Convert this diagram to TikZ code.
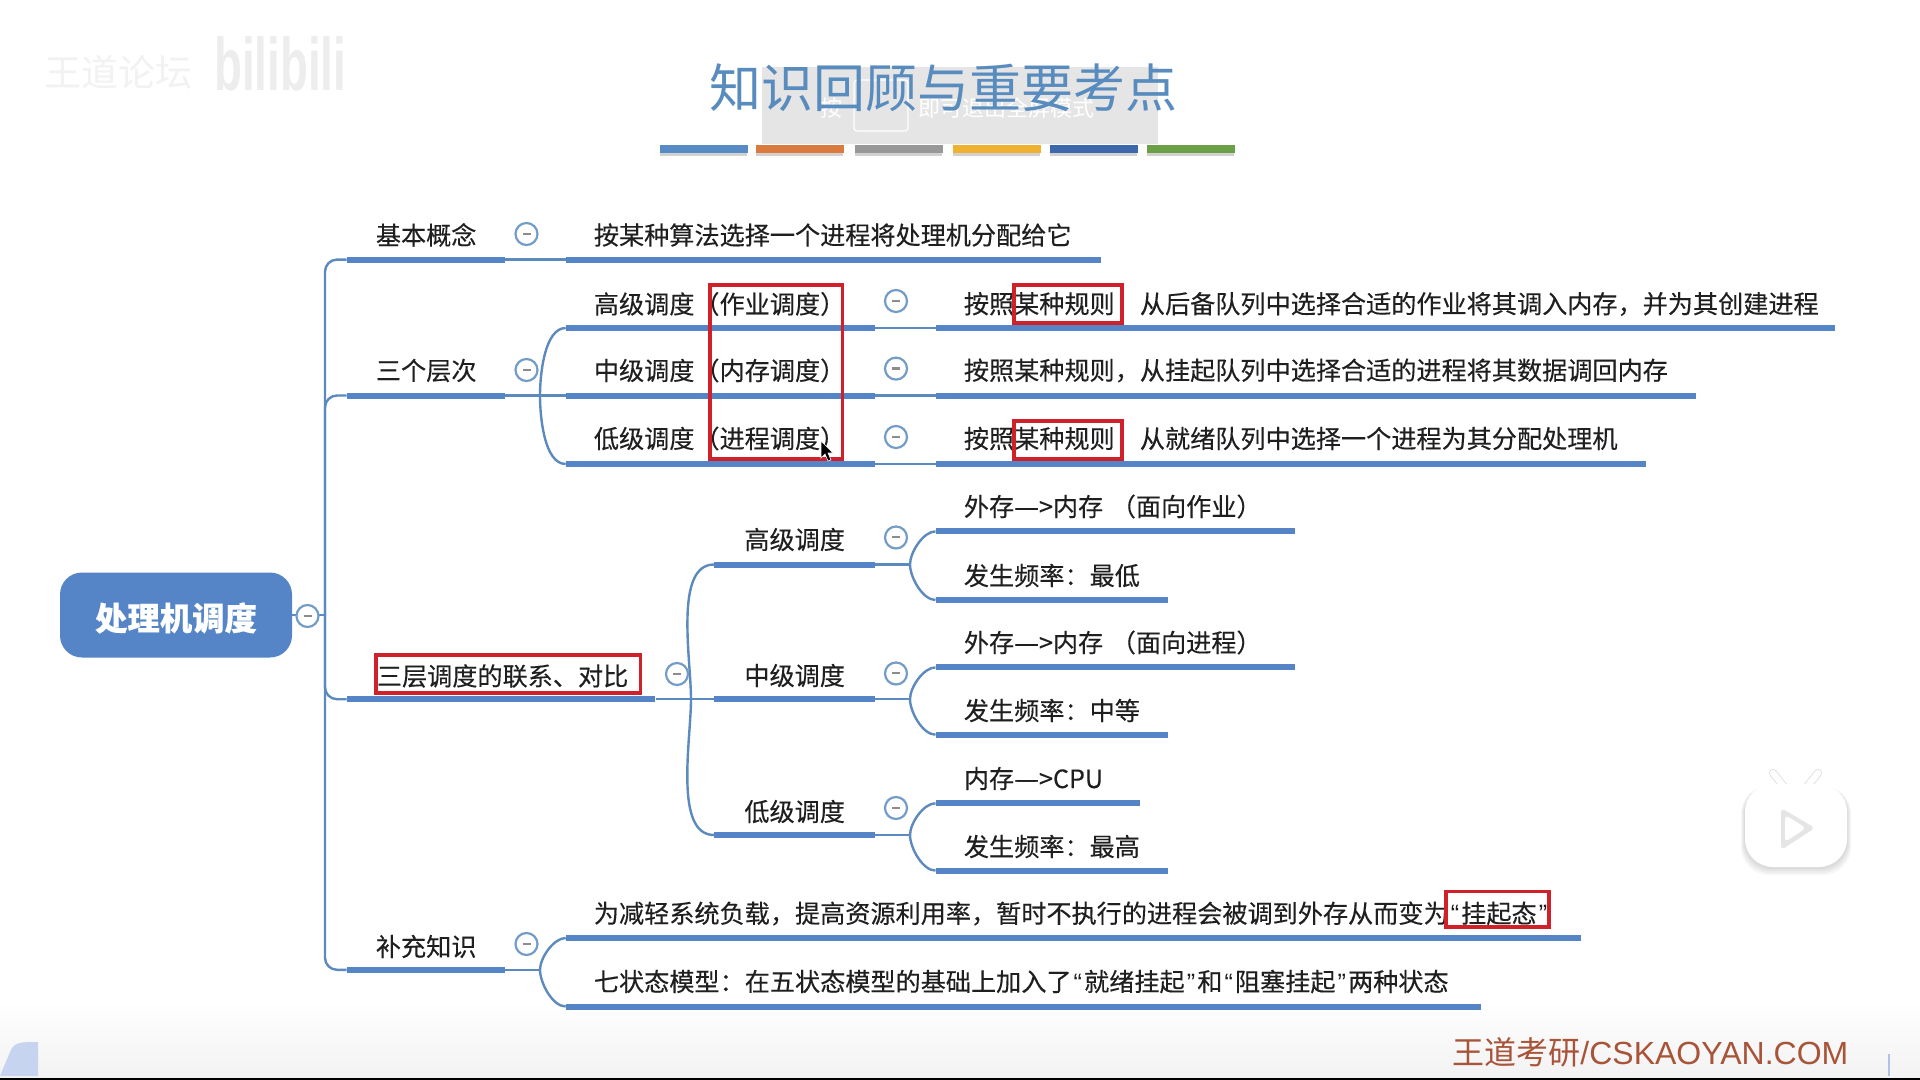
\documentclass[tikz,border=0pt]{standalone}
\usepackage{fontspec}
\setmainfont{Noto Sans CJK SC}[FakeBold=0.25]
\newfontfamily\plainfont{Noto Sans CJK SC}
\newfontfamily\latfont{Liberation Sans}
\usetikzlibrary{calc}
\definecolor{barblue}{RGB}{85,133,198}
\definecolor{linkblue}{RGB}{92,138,190}
\definecolor{redmark}{RGB}{208,32,42}
\definecolor{titleblue}{RGB}{88,140,190}
\definecolor{footbrown}{RGB}{168,84,56}
\newcommand{\qq}[1]{\makebox[0.5em][c]{\latfont #1}}
\newcommand{\arrowtxt}{—\hspace{-0.8em}—>}
\newcommand{\topbar}[4]{\node[barline,minimum width=#4*0.5pt,anchor=west] (#1) at (#2,#3) {};}
\newcommand{\toggle}[3]{\node[togglenode] (#1) at (#2,#3) {\textcolor{black!45}{\rule[0.1pt]{4pt}{1pt}}};}
\newcommand{\titem}[4]{\node[textitem] (#1) at (#2,#3) {#4};}
\tikzset{
  barline/.style={rectangle,fill=barblue,draw=none,inner sep=0pt,minimum height=3pt},
  link/.style={draw=linkblue,line width=1.2pt},
  forkup/.style={link,out=90,in=180,looseness=0.75},
  forkdn/.style={link,out=-90,in=180,looseness=0.75},
  togglenode/.style={circle,draw=linkblue!85,line width=1.1pt,fill=white,minimum size=11pt,inner sep=0pt},
  textitem/.style={anchor=west,inner sep=0pt,text=black!88,font=\fontsize{12.57}{15}\selectfont},
  redbox/.style={draw=redmark,line width=1.8pt},
  colorbar/.style={rectangle,inner sep=0pt,minimum height=4.2pt,minimum width=44pt,anchor=west},
}
\begin{document}
\begin{tikzpicture}[x=0.5pt,y=-0.5pt]
\useasboundingbox (0,0) rectangle (1920,1080);
\fill[white] (0,0) rectangle (1920,1080);
\shade[top color=white,bottom color=black!5] (0,1000) rectangle (1920,1078);
\fill[black] (0,1078) rectangle (1920,1080);
% bottom-left decoration and small tick
\fill[cyan!50!blue!22] (0,1076) -- (10,1052) .. controls (14,1042) and (20,1042) .. (38,1042) -- (38,1076) -- cycle;
\draw[cyan!40!blue!30,line width=0.6pt] (1889,1054) -- (1889,1076);
% watermark
\node[inner sep=0pt,anchor=west,text=black!5,font=\plainfont\fontsize{18.5}{20}\selectfont] (wm1) at (44,72) {王道论坛};
\node[inner sep=0pt,anchor=west,text=black!7,font=\latfont\bfseries\fontsize{24}{26}\selectfont,xscale=0.95,yscale=1.55] (wm2) at (214,64) {bilibili};
% full-screen hint
\fill[black!10] (762,67) rectangle (1158,144);
\draw[white,line width=0.6pt,rounded corners=1.5pt] (854,80) rectangle (908,131);
\node[inner sep=0pt,anchor=west,text=white,font=\plainfont\fontsize{11}{13}\selectfont] (hint1) at (820,108) {按};
\node[inner sep=0pt,anchor=west,text=white,font=\plainfont\fontsize{11}{13}\selectfont] (hint2) at (918,108) {即可退出全屏模式};
% title
\node[inner sep=0pt,text=titleblue,font=\plainfont\fontsize{26}{30}\selectfont] (title) at (943,88) {知识回顾与重要考点};
\foreach \x/\c [count=\i] in {660/{rgb,255:red,86;green,139;blue,196},756/{rgb,255:red,218;green,122;blue,62},855/{rgb,255:red,152;green,152;blue,152},953/{rgb,255:red,240;green,176;blue,48},1050/{rgb,255:red,62;green,104;blue,172},1147/{rgb,255:red,108;green,160;blue,70}}{
  \fill[black!18] (\x,150) rectangle (\x+87,156);
  \node[colorbar,fill={\c}] (cb\i) at (\x,149) {};
}
% root
\node[rectangle,rounded corners=11pt,fill=barblue,minimum width=116pt,minimum height=42.5pt,inner sep=0pt] (root) at (176,615) {};
\node[inner sep=0pt,text=white,font=\bfseries\fontsize{16.2}{18}\selectfont] (roottext) at (176,618) {处理机调度};
\coordinate (trunk) at (325,615);
% bars
\topbar{a}{346.5}{259.6}{158}
\topbar{a1}{565.7}{259.6}{535}
\topbar{b}{346.5}{395.5}{158}
\topbar{b1}{565.7}{328}{308.6}
\topbar{b2}{565.7}{395.5}{308.6}
\topbar{b3}{565.7}{464}{308.6}
\topbar{b1r}{935.5}{328}{899}
\topbar{b2r}{935.5}{395.5}{760.5}
\topbar{b3r}{935.5}{464}{710}
\topbar{c}{346.5}{699.2}{308.5}
\topbar{c1}{714}{564.5}{160.3}
\topbar{c2}{714}{699.2}{160.3}
\topbar{c3}{714}{835}{160.3}
\topbar{c1a}{935.5}{531.4}{359}
\topbar{c1b}{935.5}{600}{232.5}
\topbar{c2a}{935.5}{667.4}{359}
\topbar{c2b}{935.5}{734.7}{232.5}
\topbar{c3a}{935.5}{803.3}{204.5}
\topbar{c3b}{935.5}{870.6}{232.5}
\topbar{d}{346.5}{969.8}{158}
\topbar{d1}{565.7}{938}{1015}
\topbar{d2}{565.7}{1006.5}{914.7}
% connectors
\draw[link] (root.east) -- (trunk);
\draw[link,rounded corners=6pt] (trunk) |- (a.west);
\draw[link,rounded corners=6pt] (trunk) |- (b.west);
\draw[link,rounded corners=6pt] (trunk) |- (c.west);
\draw[link,rounded corners=6pt] (trunk) |- (d.west);
\draw[link] (a.east) -- (a1.west);
\coordinate (fb) at (540,395.5);
\draw[link] (b.east) -- (b2.west);
\draw[forkup] (fb) to (b1.west);
\draw[forkdn] (fb) to (b3.west);
\draw[link] (b1.east) -- (b1r.west);
\draw[link] (b2.east) -- (b2r.west);
\draw[link] (b3.east) -- (b3r.west);
\coordinate (fc) at (691,699.2);
\draw[link] (c.east) -- (c2.west);
\draw[forkup] (fc) to (c1.west);
\draw[forkdn] (fc) to (c3.west);
\coordinate (fc1) at (910,564.5);
\coordinate (fc2) at (910,699.2);
\coordinate (fc3) at (910,835);
\draw[link] (c1.east) -- (fc1);
\draw[link] (c2.east) -- (fc2);
\draw[link] (c3.east) -- (fc3);
\draw[forkup] (fc1) to (c1a.west);
\draw[forkdn] (fc1) to (c1b.west);
\draw[forkup] (fc2) to (c2a.west);
\draw[forkdn] (fc2) to (c2b.west);
\draw[forkup] (fc3) to (c3a.west);
\draw[forkdn] (fc3) to (c3b.west);
\coordinate (fd) at (540,969.8);
\draw[link] (d.east) -- (fd);
\draw[forkup] (fd) to (d1.west);
\draw[forkdn] (fd) to (d2.west);
% toggles
\toggle{troot}{307.5}{616}
\toggle{ta}{526.5}{234}
\toggle{tb}{526.5}{370}
\toggle{tb1}{896}{301}
\toggle{tb2}{896}{368.6}
\toggle{tb3}{896}{437}
\toggle{tc}{677}{674}
\toggle{tc1}{896}{537.5}
\toggle{tc2}{896}{673.5}
\toggle{tc3}{896}{808}
\toggle{td}{526.5}{944}
% text
\titem{xa}{375.5}{235}{基本概念}
\titem{xa1}{593.5}{235}{按某种算法选择一个进程将处理机分配给它}
\titem{xb}{375.5}{370.5}{三个层次}
\titem{xb1}{593.5}{304}{高级调度（作业调度）}
\titem{xb2}{593.5}{370.5}{中级调度（内存调度）}
\titem{xb3}{593.5}{438.5}{低级调度（进程调度）}
\titem{xb1r}{963.5}{304}{按照某种规则\hspace{1em}从后备队列中选择合适的作业将其调入内存，并为其创建进程}
\titem{xb2r}{963.5}{370.5}{按照某种规则，从挂起队列中选择合适的进程将其数据调回内存}
\titem{xb3r}{963.5}{438.5}{按照某种规则\hspace{1em}从就绪队列中选择一个进程为其分配处理机}
\titem{xc}{376.5}{676}{三层调度的联系、对比}
\titem{xc1}{744}{539.5}{高级调度}
\titem{xc2}{744}{675.5}{中级调度}
\titem{xc3}{744}{811.5}{低级调度}
\titem{xc1a}{963.5}{506.5}{外存\arrowtxt 内存\hspace{0.3em}（面向作业）}
\titem{xc1b}{963.5}{575.5}{发生频率：最低}
\titem{xc2a}{963.5}{642.5}{外存\arrowtxt 内存\hspace{0.3em}（面向进程）}
\titem{xc2b}{963.5}{710.5}{发生频率：中等}
\titem{xc3a}{963.5}{778.5}{内存\arrowtxt CPU}
\titem{xc3b}{963.5}{846.5}{发生频率：最高}
\titem{xd}{375.5}{946.5}{补充知识}
\titem{xd1}{593.5}{913.5}{为减轻系统负载，提高资源利用率，暂时不执行的进程会被调到外存从而变为\qq{“}挂起态\qq{”}}
\titem{xd2}{593.5}{981.5}{七状态模型：在五状态模型的基础上加入了\qq{“}就绪挂起\qq{”}和\qq{“}阻塞挂起\qq{”}两种状态}
% red highlight boxes
\draw[redbox] (710,285) rectangle (842.5,459);
\draw[redbox] (1014,285) rectangle (1121.7,323);
\draw[redbox] (1014,421) rectangle (1121.7,459);
\draw[redbox] (376,655) rectangle (640.4,693);
\draw[redbox] (1446,891.5) rectangle (1549,927);
% cursor
\fill[black,draw=white,line width=0.3pt] (821,441) -- (821,458) -- (825,454) -- (828,461) -- (831,460) -- (828,453) -- (833,453) -- cycle;
% footer
\node[inner sep=0pt,anchor=west,text=footbrown,font=\plainfont\fontsize{16}{18}\selectfont] (foot) at (1452,1052) {王道考研\latfont/CSKAOYAN.COM};
% video-site badge
\foreach \o in {8,6,4,2}{\fill[black,opacity=0.035,rounded corners=14pt] (1745-\o/2,786) rectangle (1847+\o/2,867+\o);}
\draw[black!14,line width=4pt,line cap=round] (1785,788) -- (1773,773) (1806,788) -- (1818,773);
\draw[white,line width=3.2pt,line cap=round] (1785,788) -- (1773,773) (1806,788) -- (1818,773);
\fill[white,rounded corners=14pt] (1745,784) rectangle (1847,867);
\fill[black!10,rounded corners=2pt] (1781,808) -- (1815,828) -- (1781,850) -- cycle;
\fill[white,rounded corners=2pt] (1785,815) -- (1806,828) -- (1785,842) -- cycle;
\end{tikzpicture}
\end{document}
